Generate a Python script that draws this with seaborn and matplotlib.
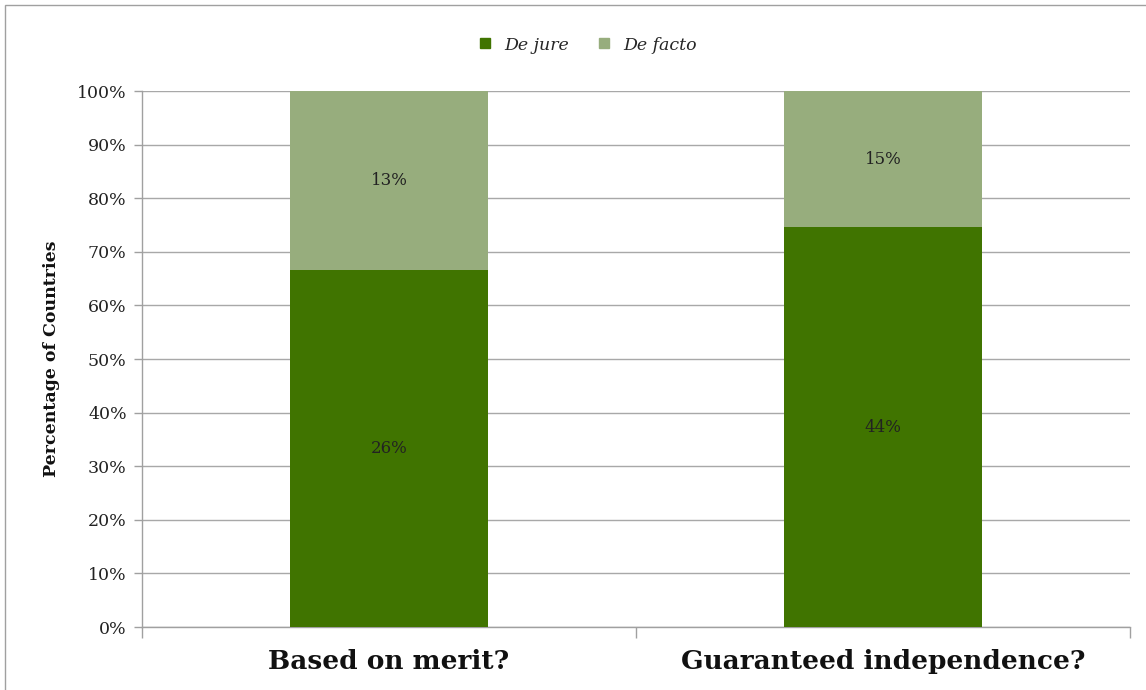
import pandas as pd
import seaborn as sns
import matplotlib.pyplot as plt
from matplotlib.lines import Line2D
from matplotlib.patches import Rectangle

# Data (counts of countries)
categories = ["Based on merit?", "Guaranteed independence?"]
de_jure = [26, 44]
de_facto = [13, 15]

df = pd.DataFrame({"category": categories, "de_jure": de_jure, "de_facto": de_facto})
df["total"] = df["de_jure"] + df["de_facto"]
df["jure_pct"] = df["de_jure"] / df["total"] * 100
df["all_pct"] = 100.0

c_jure = "#407400"
c_facto = "#97ad7d"

sns.set_theme(style="white")
plt.rcParams["font.family"] = ["DejaVu Serif"]

fig = plt.figure(figsize=(11.46, 6.9), dpi=100)
ax = fig.add_axes([142 / 1146, 1 - 627 / 690, 988 / 1146, 536 / 690])

# stacked: full bar in de facto colour, de jure share drawn on top
sns.barplot(data=df, x="category", y="all_pct", color=c_facto, width=0.4,
            saturation=1, linewidth=0, ax=ax, zorder=3)
sns.barplot(data=df, x="category", y="jure_pct", color=c_jure, width=0.4,
            saturation=1, linewidth=0, ax=ax, zorder=3)

for i, row in df.iterrows():
    ax.text(i, row["jure_pct"] / 2, f"{row['de_jure']}%", ha="center", va="center",
            fontsize=12, color="#222222", zorder=4)
    ax.text(i, (row["jure_pct"] + 100) / 2, f"{row['de_facto']}%", ha="center",
            va="center", fontsize=12, color="#222222", zorder=4)

ax.set_xlim(-0.5, 1.5)
ax.set_ylim(0, 100)
ax.set_yticks(range(0, 101, 10))
ax.set_yticklabels([f"{v}%" for v in range(0, 101, 10)], fontsize=12.5, color="#222222")
ax.set_xticks([0, 1])
ax.set_xticklabels(categories, fontsize=19, fontweight="bold", color="#111111")
ax.set_xticks([-0.5, 0.5, 1.5], minor=True)
ax.tick_params(axis="x", which="major", bottom=False, length=0, pad=16)
ax.tick_params(axis="x", which="minor", bottom=True, length=8, color="#a0a0a0", width=1,
               direction="out")
ax.tick_params(axis="y", left=True, length=6, color="#a0a0a0", width=1, direction="out", pad=5)
ax.set_xlabel("")
ax.set_ylabel("Percentage of Countries", fontsize=12.5, fontweight="bold", labelpad=12,
              color="#111111")

ax.grid(axis="y", color="#a8a8a8", linewidth=1, zorder=0)
ax.set_axisbelow(True)
for s in ["top", "right"]:
    ax.spines[s].set_visible(False)
for s in ["left", "bottom"]:
    ax.spines[s].set_color("#a0a0a0")
    ax.spines[s].set_linewidth(1)

handles = [Line2D([0], [0], marker="s", linestyle="", markersize=7, color=c_jure),
           Line2D([0], [0], marker="s", linestyle="", markersize=7, color=c_facto)]
fig.legend(handles, ["De jure", "De facto"], loc="center", bbox_to_anchor=(0.508, 1 - 45 / 690),
           ncol=2, frameon=False, prop={"style": "italic", "size": 12.5},
           handletextpad=0.1, columnspacing=1.0)

# outer chart frame
fig.patches.append(Rectangle((5 / 1146, -0.01), 1.02, 1 - 5 / 690 + 0.01,
                             transform=fig.transFigure, fill=False,
                             edgecolor="#a0a0a0", linewidth=1))

fig.savefig("out.png", dpi=100)
